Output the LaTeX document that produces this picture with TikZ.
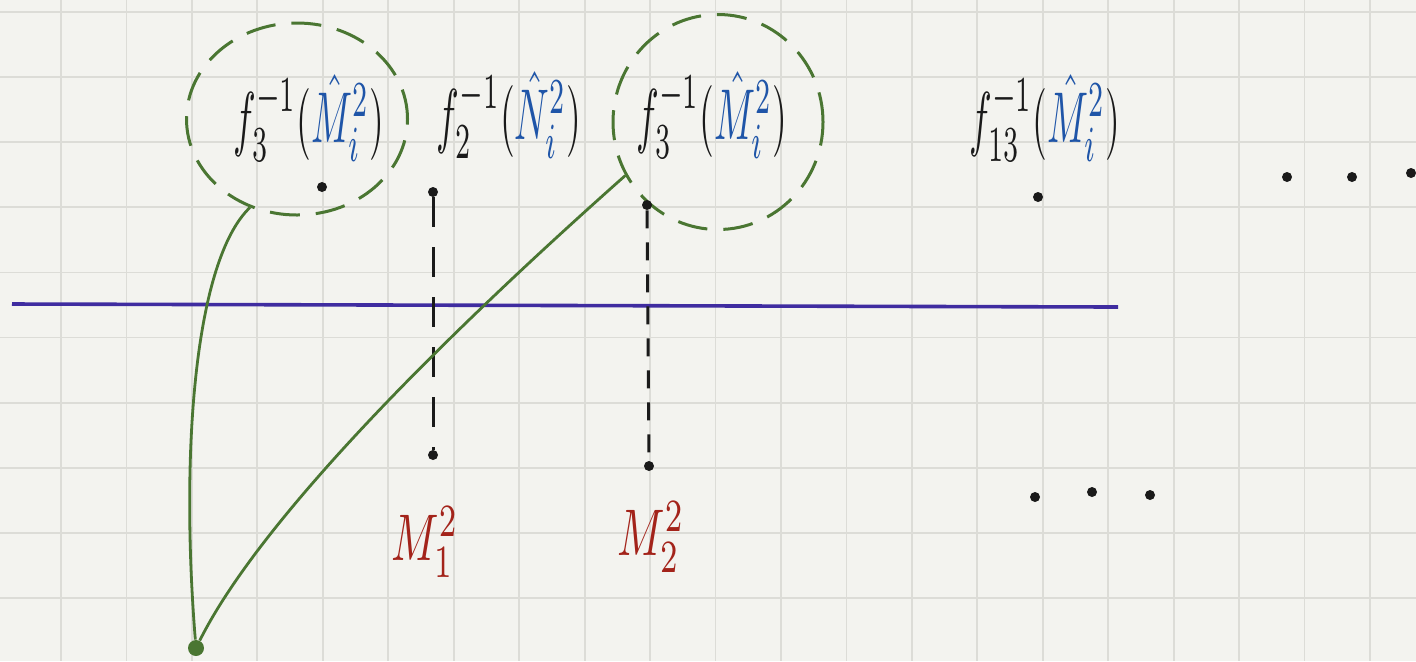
\documentclass[tikz,border=0pt]{standalone}
\usepackage{graphicx}
\usetikzlibrary{shapes.geometric}
\definecolor{paper}{HTML}{F3F3EF}
\definecolor{gridc}{HTML}{DCDCD7}
\definecolor{pen}{HTML}{1A1A1A}
\definecolor{grn}{HTML}{4A7632}
\definecolor{blu}{HTML}{1F55A8}
\definecolor{redc}{HTML}{A3231A}
\definecolor{purp}{HTML}{3F2CA0}
\newcommand{\flbl}[2]{\scalebox{1.9}[3.6]{$f_{#1}^{-1}(\textcolor{blu}{\hat{#2}_{i}^{2}})$}}
\newcommand{\mlbl}[1]{\scalebox{2.2}[3.3]{$M_{#1}^{2}$}}
\tikzset{
 gridline/.style={draw=gridc, line width=0.9pt},
 ring/.style={ellipse, draw=grn, line width=1.5pt, dash pattern=on 15pt off 8pt, inner sep=0pt},
 blackdot/.style={circle, fill=pen, inner sep=0pt, minimum size=5pt},
 greendot/.style={circle, fill=grn, inner sep=0pt, minimum size=8pt},
 link/.style={draw=grn, line width=1.4pt},
 drop/.style={draw=pen, line width=1.5pt},
 flabel/.style={text=pen, inner sep=0pt},
 mlabel/.style={text=redc, inner sep=0pt},
 axis/.style={draw=purp, line width=1.8pt},
}
\begin{document}
\begin{tikzpicture}[x=0.5pt,y=-0.5pt]
\fill[paper] (0,0) rectangle (1416,661);
\useasboundingbox (0,0) rectangle (1416,661);
% grid
\foreach \i in {0,...,20} \draw[gridline] ({61+65.45*\i},0) -- ({61+65.45*\i},661);
\foreach \j in {0,...,9} \draw[gridline] (0,{12+65.1*\j}) -- (1416,{12+65.1*\j});
% axis
\coordinate (axL) at (12,304);
\coordinate (axR) at (1118,307);
\draw[axis] (axL) -- (axR);
% labels
\node[flabel] (l1) at (309,118) {\flbl{3}{M}};
\node[flabel] (l2) at (509,115) {\flbl{2}{N}};
\node[flabel] (l3) at (712,115) {\flbl{3}{M}};
\node[flabel] (l4) at (1045,118) {\flbl{13}{M}};
\node[mlabel] (m1) at (425,542) {\mlbl{1}};
\node[mlabel] (m2) at (651,537) {\mlbl{2}};
% rings
\node[ring, minimum width=110.5pt, minimum height=96pt] (c1) at (297,119) {};
\node[ring, minimum width=105pt, minimum height=107.5pt] (c2) at (718,122) {};
% dots
\node[blackdot] (d1) at (322,187) {};
\node[blackdot] (d2) at (433,192) {};
\node[blackdot] (d2b) at (433,455) {};
\node[blackdot] (d3) at (647,205) {};
\node[blackdot] (d3b) at (649,466) {};
\node[blackdot] (d4) at (1038,197) {};
\node[blackdot] (e1) at (1287,177) {};
\node[blackdot] (e2) at (1352,177) {};
\node[blackdot] (e3) at (1411,173) {};
\node[blackdot] (b1) at (1035,497) {};
\node[blackdot] (b2) at (1092,492) {};
\node[blackdot] (b3) at (1150,495) {};
\node[greendot] (g) at (196,648) {};
% dashed drops
\draw[drop, dash pattern=on 15pt off 10pt] (d2) -- (d2b);
\draw[drop, dash pattern=on 9pt off 7pt] (d3) -- (d3b);
% green links
\draw[link] (g) .. controls (180,450) and (195,260) .. (c1.242);
\draw[link] (g) .. controls (260,520) and (440,340) .. (c2.210);
\end{tikzpicture}
\end{document}
